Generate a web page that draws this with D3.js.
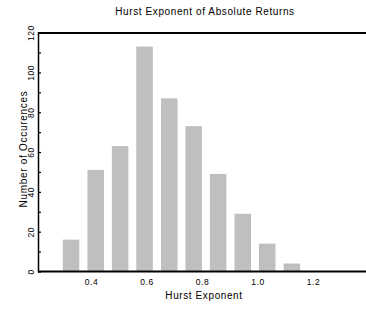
<!DOCTYPE html>
<html><head><meta charset="utf-8">
<script src="https://cdn.jsdelivr.net/npm/d3@7"></script>
<style>
html,body{margin:0;padding:0;background:#fff;}
svg{display:block;}
text{font-family:"Liberation Sans",Arial,Helvetica,sans-serif;fill:#000;}
</style></head>
<body>
<script>
const binCenters = [0.328, 0.417, 0.505, 0.593, 0.682, 0.770, 0.858, 0.947, 1.035, 1.124];
const counts = [16, 51, 63, 113, 87, 73, 49, 29, 14, 4];
const xTicks = [0.4, 0.6, 0.8, 1.0, 1.2];
const yTicks = [0, 20, 40, 60, 80, 100, 120];
const yMinorTicks = [10, 30, 50, 70, 90, 110];
const title = "Hurst Exponent of Absolute Returns";
const xTitle = "Hurst Exponent";
const yTitle = "Number of Occurences";

const W = 366, H = 310;
const svg = d3.select("body").append("svg").attr("width", W).attr("height", H);

const x = d3.scaleLinear().domain([0.2, 1.4]).range([35.5, 368.5]);
const y = d3.scaleLinear().domain([0, 120]).range([271.5, 32.6]);
const left = 38.5, right = 366;
const barW = x(0.2 + 0.0595) - x(0.2);

// bars
svg.append("g").selectAll("rect").data(binCenters).join("rect")
  .attr("x", (d) => x(d) - barW / 2)
  .attr("width", barW)
  .attr("y", (d, i) => y(counts[i]))
  .attr("height", (d, i) => y(0) - y(counts[i]))
  .attr("fill", "#bfbfbf");

// x axis labels (no tick marks)
const gx = svg.append("g").attr("transform", `translate(0,${y(0)})`)
  .call(d3.axisBottom(x).tickValues(xTicks).tickFormat(d3.format(".1f")).tickSize(0).tickPadding(0));
gx.select(".domain").remove();
gx.selectAll("text").attr("dy", null).attr("y", 13.5)
  .style("font-size", "8.5px").style("letter-spacing", "0.5px").attr("font-family", null);

// y axis: minor + major ticks inward, rotated labels
const gy = svg.append("g").attr("transform", `translate(${left},0)`)
  .call(d3.axisLeft(y).tickValues(yTicks.concat(yMinorTicks)).tickSize(-2.5).tickPadding(0)
    .tickFormat((d) => yTicks.includes(d) ? d : ""));
gy.select(".domain").remove();
gy.selectAll(".tick line").attr("stroke", "#000").attr("stroke-width", 1.2);
gy.selectAll("text")
  .attr("x", null).attr("dy", null)
  .attr("text-anchor", "middle")
  .attr("transform", "translate(-4.3,0) rotate(-90)")
  .style("font-size", "8.5px").style("letter-spacing", "0.5px").attr("font-family", null);

// frame lines
svg.append("line").attr("x1", left - 0.5).attr("x2", right).attr("y1", 33).attr("y2", 33)
  .attr("stroke", "#000").attr("stroke-width", 2);
svg.append("line").attr("x1", left - 0.5).attr("x2", right).attr("y1", y(0)).attr("y2", y(0))
  .attr("stroke", "#000").attr("stroke-width", 2);
svg.append("line").attr("x1", left).attr("x2", left).attr("y1", 32).attr("y2", y(0) + 1)
  .attr("stroke", "#000").attr("stroke-width", 1.5);

// titles
svg.append("text").attr("x", 205).attr("y", 15).attr("text-anchor", "middle")
  .style("font-size", "10px").style("letter-spacing", "0.6px").text(title);
svg.append("text").attr("x", 204).attr("y", 299).attr("text-anchor", "middle")
  .style("font-size", "10px").style("letter-spacing", "0.6px").text(xTitle);
svg.append("text").attr("transform", "translate(26.5,149) rotate(-90)").attr("text-anchor", "middle")
  .style("font-size", "10px").style("letter-spacing", "0.7px").text(yTitle);
</script>
</body></html>
